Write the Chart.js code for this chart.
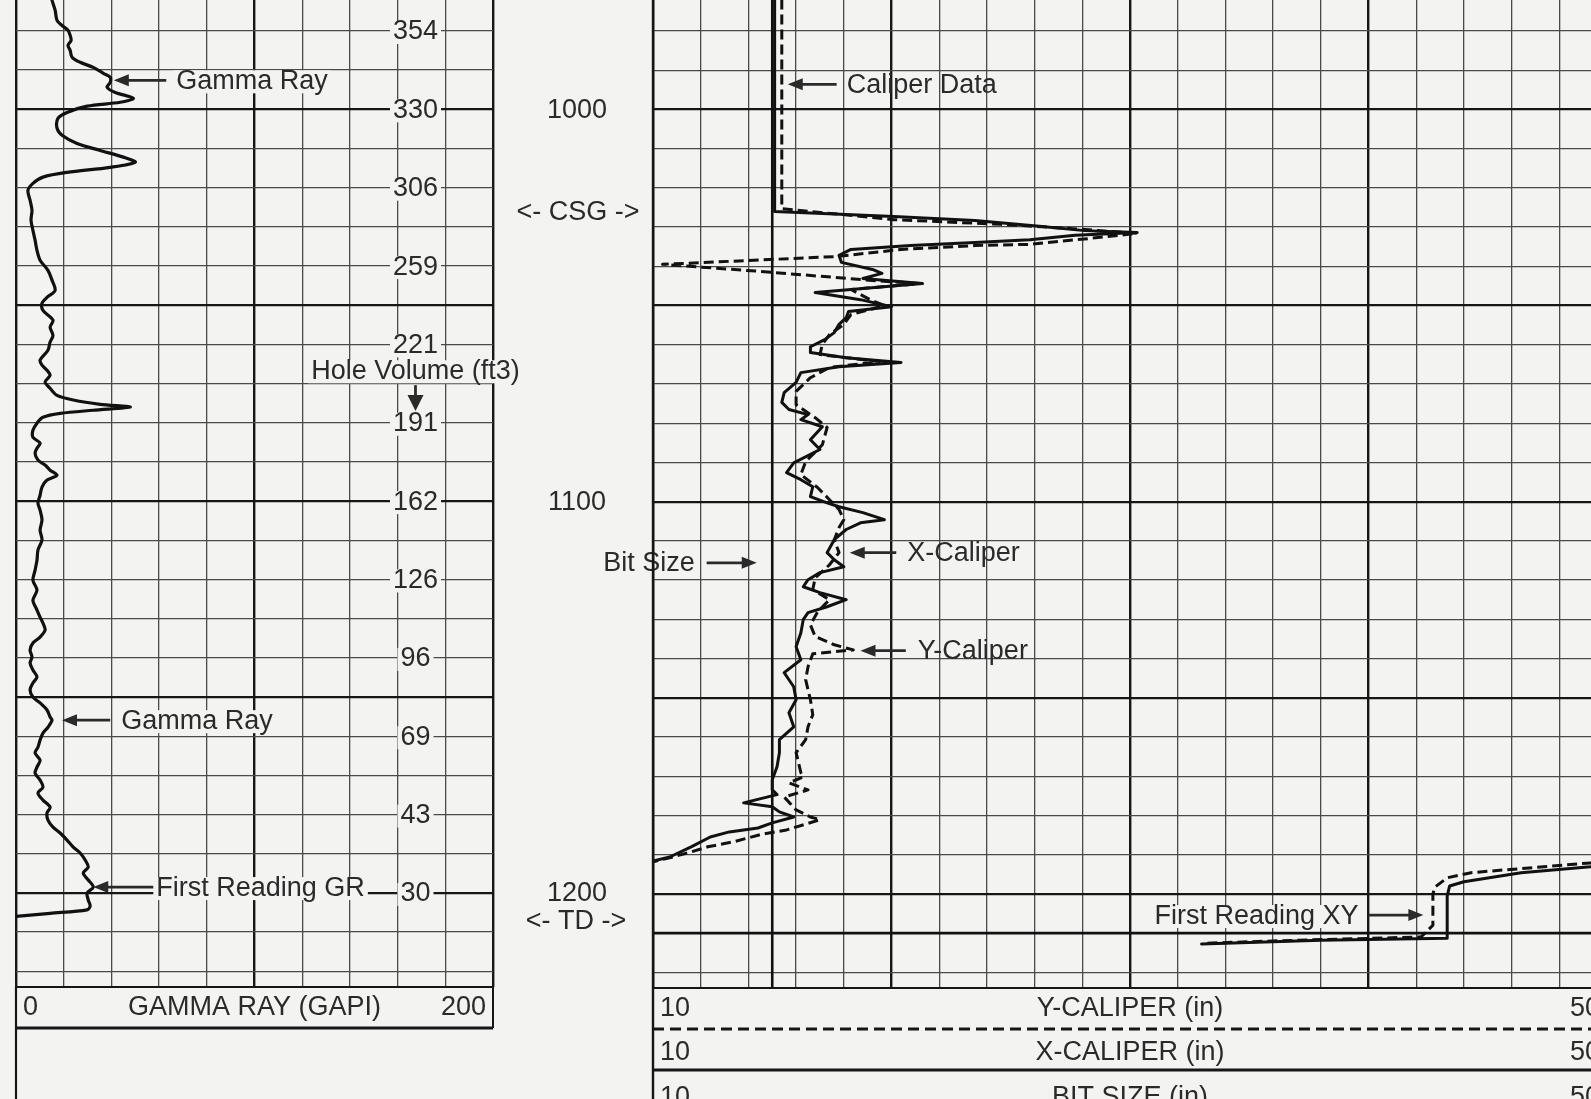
<!DOCTYPE html>
<html>
<head>
<meta charset="utf-8">
<title>Gamma Ray and Caliper Log</title>
<script src="https://cdn.jsdelivr.net/npm/chart.js"></script>
<style>
  html, body { margin: 0; padding: 0; background: #f3f3f2; overflow: hidden; }
  #log { position: relative; width: 1591px; height: 1099px; overflow: hidden; background: #f3f3f2; }
  #log canvas { position: absolute; left: 0; top: 0; }
</style>
</head>
<body>
<div id="log">
  <canvas id="caliper" width="1650" height="1099"></canvas>
  <canvas id="gamma" width="1591" height="1099"></canvas>
</div>
<script>
// ---- depth window (ft) ----
const depthTop = 972.1;
const depthBottom = 1224.0;
const depthLabels = [1000, 1100, 1200];
const casingShoeDepth = 1026;
const totalDepth = 1210;

// ---- gamma ray track (GAPI) ----
const gammaDepth = [972.2,974.7,977.3,978.6,979.8,981.1,982.4,983.7,984.9,986.7,
  988.0,989.3,990.8,991.8,993.1,994.4,995.7,997.2,998.2,999.2,
  1000.8,1002.3,1004.8,1006.6,1008.7,1010.5,1012.2,1013.5,1014.8,1016.1,
  1017.3,1018.9,1020.7,1023.2,1025.8,1028.3,1030.9,1033.4,1036.0,1038.5,
  1041.1,1043.6,1046.2,1048.0,1049.5,1051.3,1053.8,1055.6,1057.7,1059.4,
  1061.5,1064.0,1065.3,1066.6,1067.9,1069.6,1071.2,1073.0,1074.2,1075.3,
  1076.0,1076.8,1077.6,1078.6,1080.1,1081.9,1083.7,1085.2,1086.5,1087.8,
  1089.5,1090.8,1092.1,1093.4,1094.6,1096.4,1098.5,1100.5,1102.3,1104.8,
  1107.4,1109.9,1112.5,1115.1,1117.6,1120.2,1122.7,1125.3,1127.8,1129.6,
  1131.1,1132.9,1134.7,1136.2,1138.0,1139.8,1141.3,1143.1,1144.9,1146.4,
  1148.2,1150.0,1151.5,1153.3,1155.1,1155.9,1157.7,1159.2,1161.0,1162.8,
  1164.3,1166.1,1167.9,1169.4,1171.2,1173.0,1174.5,1176.3,1178.1,1179.6,
  1181.4,1183.2,1184.7,1186.5,1188.3,1189.8,1191.6,1193.4,1194.9,1196.7,
  1198.5,1200.0,1201.8,1203.3,1204.3,1205.2,1206.0];
const gammaRay = [15.1,16.4,17.2,19.3,21.8,22.7,23.1,21.8,22.7,23.5,
  26.9,32.4,36.6,39.5,39.5,38.2,41.6,49.2,43.7,29.8,
  21.4,17.6,17.2,19.3,25.6,35.3,45.0,50.0,39.5,21.4,
  11.3,7.1,5.0,5.9,6.7,6.3,7.1,8.0,8.8,10.1,
  13.4,15.1,16.4,13.0,10.9,11.3,15.5,14.3,15.5,14.3,
  13.4,10.1,10.9,13.0,14.3,12.2,14.3,17.2,24.0,35.3,
  47.9,32.4,18.5,11.3,8.8,7.1,7.1,10.1,8.8,8.0,
  9.2,12.2,14.3,17.2,13.0,10.9,10.1,9.2,10.1,10.9,
  10.1,10.9,9.2,8.8,8.0,7.1,8.8,7.1,8.8,10.1,
  11.3,12.2,10.1,7.1,5.9,6.7,5.9,7.1,8.8,7.1,
  5.9,7.1,10.1,13.0,14.3,15.1,13.4,11.3,10.1,9.2,
  8.0,10.1,8.8,8.0,10.1,11.3,9.2,11.3,14.3,13.0,
  13.4,15.5,18.5,21.4,24.0,26.9,29.0,30.3,28.2,30.3,
  32.4,29.8,30.3,31.1,29.8,14.3,0];

// ---- hole volume marks (ft3) ----
const holeDepth = [980,1000,1020,1040,1060,1080,1100,1120,1140,1160,1180,1200];
const holeVolume = [354,330,306,259,221,191,162,126,96,69,43,30];
const holeVolumeColumn = 167.5;   // GAPI position of the volume column

// ---- caliper track (in) ----
const bitSize = 15;
const xCalDepth = [972.0,1026.0,1027.3,1028.3,1029.8,1030.9,1031.4,1032.1,1033.2,1033.9,
  1034.7,1035.7,1037.2,1039.0,1040.8,1041.8,1043.1,1044.4,1046.7,1048.5,
  1050.3,1051.5,1053.1,1054.8,1056.9,1058.7,1060.5,1062.0,1063.3,1064.5,
  1065.6,1067.1,1069.6,1072.2,1074.7,1076.5,1077.8,1079.1,1080.9,1084.2,
  1086.7,1090.1,1092.6,1094.4,1096.2,1098.7,1100.3,1101.3,1102.8,1104.6,
  1105.4,1107.1,1109.7,1113.0,1114.8,1116.6,1118.1,1119.9,1121.7,1123.2,
  1125.0,1126.8,1128.3,1130.1,1133.4,1137.0,1140.3,1143.6,1145.4,1147.2,
  1150.5,1153.8,1157.4,1160.7,1164.0,1167.6,1170.9,1173.5,1174.7,1176.8,
  1177.8,1179.1,1180.4,1181.9,1183.2,1184.2,1185.5,1188.0,1190.6,1191.6,
  null,
  1192.6,1193.1,1194.6,1196.9,1198.0,1200.5,1211.3,1211.8,1212.8];
const xCaliper = [15.1,15.1,20.1,23.5,26.2,28.1,30.3,27.7,25.8,23.5,
  20.8,18.3,17.8,17.9,19.2,19.6,18.8,21.3,16.8,18.7,
  20.0,18.2,18.1,17.8,17.6,17.2,16.6,16.6,18.1,20.4,
  17.8,16.2,16.0,15.5,15.4,15.7,16.5,16.2,17.1,16.6,
  17.0,15.9,15.6,16.2,16.7,16.6,17.3,17.8,18.8,19.7,
  18.7,18.1,17.6,17.3,17.6,18.0,17.0,16.5,16.3,17.0,
  18.1,17.3,16.5,16.3,16.2,16.0,16.2,15.5,15.7,15.9,
  16.0,15.7,15.9,15.3,15.3,15.2,15.0,15.0,15.2,13.8,
  15.0,15.3,15.9,15.0,14.4,13.2,12.4,11.6,10.7,10.0,
  null,
  50.0,49.3,46.4,44.0,43.4,43.3,43.3,38.0,33.0];
const yCalDepth = [972.0,1025.3,1028.1,1029.3,1030.4,1031.6,1032.9,1034.4,1034.7,1035.7,
  1037.5,1039.5,1041.3,1043.6,1044.4,1045.9,1048.5,1050.0,1052.3,1054.8,
  1057.4,1059.9,1062.5,1064.3,1065.8,1068.4,1071.9,1075.3,1078.6,1081.1,
  1085.5,1089.8,1093.1,1096.4,1099.5,1102.0,1104.6,1106.6,1109.7,1113.0,
  1116.1,1119.4,1122.4,1125.0,1128.1,1131.4,1134.4,1136.5,1137.8,1138.8,
  1142.1,1145.4,1150.5,1154.3,1157.4,1160.7,1164.0,1169.1,1170.2,1171.7,
  1173.5,1175.3,1178.6,1180.4,1181.1,1183.7,1184.9,1186.7,1188.0,1189.3,
  1190.8,1191.8,
  null,
  1191.8,1192.1,1194.6,1195.9,1198.2,1200.0,1208.0,1211.0,1211.8,1212.6];
const yCaliper = [15.4,15.4,20.1,24.6,27.6,30.3,28.3,25.8,23.5,20.4,
  17.7,10.4,14.5,19.2,21.2,18.3,19.1,19.7,18.3,18.0,
  17.4,17.1,17.0,19.5,17.4,16.6,16.0,16.0,16.8,17.3,
  17.1,16.4,16.2,16.9,17.4,17.8,18.0,17.8,17.6,17.8,
  17.4,16.8,16.7,17.4,16.9,16.6,16.8,17.6,18.4,16.7,
  16.5,16.4,16.6,16.7,16.5,16.4,16.0,16.2,16.3,15.7,
  16.5,15.5,16.0,16.6,17.0,15.6,14.5,13.4,12.3,11.6,
  10.7,10.0,
  null,
  50.0,49.3,44.3,43.3,42.8,42.7,42.7,42.2,37.1,33.1];

// ---- callouts ----
const gammaNotes = [
  { text: 'Gamma Ray', depth: 992.6, tip: 41.0, tail: 63.0, gap: 10 },
  { text: 'Gamma Ray', depth: 1155.9, tip: 19.3, tail: 39.5, gap: 11 },
  { text: 'First Reading GR', depth: 1198.5, tip: 32.4, tail: 58.4, gap: 1 }
];
const caliperNotes = [
  { text: 'Caliper Data', depth: 993.6, tip: 15.65, tail: 17.7, gap: 10 },
  { text: 'X-Caliper', depth: 1113.0, tip: 18.25, tail: 20.2, gap: 11 },
  { text: 'Y-Caliper', depth: 1138.0, tip: 18.7, tail: 20.6, gap: 12 }
];
const caliperNotesLeft = [
  { text: 'Bit Size', depth: 1115.6, tip: 14.35, tail: 12.25, gap: 12, bg: false },
  { text: 'First Reading XY', depth: 1205.4, tip: 42.3, tail: 40.0, gap: 10, bg: true }
];
const caliperHeaders = ['Y-CALIPER (in)', 'X-CALIPER (in)', 'BIT SIZE (in)'];

// ---- styling ----
const PAPER = '#f3f3f2';
const INK = '#2a2a2a';
const MAJOR = '#161616';
const MINOR = '#4a4a4a';
const FONT = "27px 'Liberation Sans', Arial, sans-serif";
Chart.defaults.font.family = "'Liberation Sans', Arial, sans-serif";

const depthGrid = [];
for (let d = 980; d <= 1220; d += 10) depthGrid.push(d);
const gammaGrid = [];
for (let v = 0; v <= 200; v += 20) gammaGrid.push(v);
const caliperGrid = [];
for (let v = 10; v <= 50; v += 2) caliperGrid.push(v);

function pairs(depths, values) {
  return depths.map((d, i) => ({ x: values[i], y: d }));
}

function depthAxis() {
  return {
    type: 'linear', reverse: true, min: depthTop, max: depthBottom,
    afterBuildTicks: s => { s.ticks = depthGrid.map(v => ({ value: v })); },
    ticks: { display: false },
    grid: {
      drawTicks: false,
      color: c => (c.tick && c.tick.value % 50 === 0) ? MAJOR : MINOR,
      lineWidth: c => (c.tick && c.tick.value % 50 === 0) ? 2.2 : 1.3
    },
    border: { display: false }
  };
}

function valueAxis(min, max, grid, majorEvery) {
  return {
    type: 'linear', position: 'bottom', min, max,
    afterBuildTicks: s => { s.ticks = grid.map(v => ({ value: v })); },
    ticks: { display: false },
    grid: {
      drawTicks: false,
      color: c => (c.tick && (c.tick.value - min) % majorEvery === 0) ? MAJOR : MINOR,
      lineWidth: c => (c.tick && (c.tick.value - min) % majorEvery === 0) ? 2.4 : 1.3
    },
    border: { display: false }
  };
}

function line(ctx, x0, y0, x1, y1, w, dash) {
  ctx.save();
  ctx.lineWidth = w;
  ctx.strokeStyle = MAJOR;
  ctx.setLineDash(dash || []);
  ctx.beginPath(); ctx.moveTo(x0, y0); ctx.lineTo(x1, y1); ctx.stroke();
  ctx.restore();
}

function arrowTo(ctx, x0, y0, x1, y1, big) {
  const a = Math.atan2(y1 - y0, x1 - x0), L = big ? 16 : 15, W = big ? 8 : 6;
  const bx = x1 - L * Math.cos(a), by = y1 - L * Math.sin(a);
  ctx.save();
  ctx.strokeStyle = INK; ctx.fillStyle = INK; ctx.lineWidth = 2.8; ctx.lineCap = 'butt';
  ctx.beginPath(); ctx.moveTo(x0, y0); ctx.lineTo(bx + 2 * Math.cos(a), by + 2 * Math.sin(a)); ctx.stroke();
  ctx.beginPath(); ctx.moveTo(x1, y1);
  ctx.lineTo(bx - W * Math.sin(a), by + W * Math.cos(a));
  ctx.lineTo(bx + W * Math.sin(a), by - W * Math.cos(a));
  ctx.closePath(); ctx.fill();
  ctx.restore();
}

function text(ctx, str, x, y, align, bg) {
  ctx.save();
  ctx.font = FONT;
  ctx.textAlign = align; ctx.textBaseline = 'middle';
  if (bg) {
    const w = ctx.measureText(str).width;
    const left = align === 'center' ? x - w / 2 : (align === 'right' ? x - w : x);
    ctx.fillStyle = PAPER;
    ctx.fillRect(left - 3, y - 10, w + 6, 23);
  }
  ctx.fillStyle = INK;
  ctx.fillText(str, x, y + 1);
  ctx.restore();
}

// decorations of the gamma ray track, hole volume column and depth column
const gammaDecor = {
  id: 'gammaDecor',
  afterDatasetsDraw(chart) {
    const { ctx, chartArea: a, scales: { x, y } } = chart;
    const H = chart.height;

    // hole volume values sitting on the grid
    const hx = x.getPixelForValue(holeVolumeColumn);
    holeDepth.forEach((d, i) => text(ctx, String(holeVolume[i]), hx, y.getPixelForValue(d), 'center', true));
    text(ctx, 'Hole Volume (ft3)', hx, y.getPixelForValue(1066.6), 'center', true);
    arrowTo(ctx, hx, y.getPixelForValue(1070.4), hx, y.getPixelForValue(1077.0), true);

    // callouts
    gammaNotes.forEach(n => {
      const py = y.getPixelForValue(n.depth);
      const tail = x.getPixelForValue(n.tail);
      arrowTo(ctx, tail, py, x.getPixelForValue(n.tip), py);
      text(ctx, n.text, tail + n.gap, py, 'left', true);
    });

    // frame and scale header
    line(ctx, a.left, a.bottom, a.right, a.bottom, 2);
    line(ctx, a.left, a.bottom, a.left, H, 2.2);
    line(ctx, a.right, a.bottom, a.right, a.bottom + 41, 2);
    line(ctx, a.left, a.bottom + 41, a.right, a.bottom + 41, 3);
    const hy = a.bottom + 20;
    text(ctx, String(x.min), a.left + 7, hy, 'left');
    text(ctx, 'GAMMA RAY (GAPI)', (a.left + a.right) / 2, hy, 'center');
    text(ctx, String(x.max), a.right - 7, hy, 'right');

    // depth column
    const cx = a.right + 84;
    depthLabels.forEach(d => text(ctx, String(d), cx, y.getPixelForValue(d), 'center'));
    text(ctx, '<- CSG ->', cx + 1, y.getPixelForValue(casingShoeDepth), 'center');
    text(ctx, '<- TD ->', cx - 1, y.getPixelForValue(totalDepth) - 12, 'center');
  }
};

// decorations of the caliper track
const caliperDecor = {
  id: 'caliperDecor',
  afterDatasetsDraw(chart) {
    const { ctx, chartArea: a, scales: { x, y } } = chart;
    const H = chart.height;

    caliperNotes.forEach(n => {
      const py = y.getPixelForValue(n.depth);
      const tail = x.getPixelForValue(n.tail);
      arrowTo(ctx, tail, py, x.getPixelForValue(n.tip), py);
      text(ctx, n.text, tail + n.gap, py, 'left', false);
    });
    caliperNotesLeft.forEach(n => {
      const py = y.getPixelForValue(n.depth);
      const tail = x.getPixelForValue(n.tail);
      arrowTo(ctx, tail, py, x.getPixelForValue(n.tip), py);
      text(ctx, n.text, tail - n.gap, py, 'right', n.bg);
    });

    // frame and scale header
    line(ctx, a.left, a.bottom, a.right, a.bottom, 2);
    line(ctx, a.left, 0, a.left, H, 2.4);
    line(ctx, a.left, a.bottom + 41, a.right, a.bottom + 41, 3, [11, 6]);
    line(ctx, a.left, a.bottom + 82, a.right, a.bottom + 82, 3);
    const rows = [a.bottom + 20, a.bottom + 64, a.bottom + 109];
    caliperHeaders.forEach((label, i) => {
      text(ctx, String(x.min), a.left + 7, rows[i], 'left');
      text(ctx, label, (a.left + a.right) / 2, rows[i], 'center');
      text(ctx, String(x.max), a.right - 7, rows[i], 'right');
    });
  }
};

const common = {
  responsive: false,
  animation: false,
  devicePixelRatio: 1,
  events: [],
  plugins: { legend: { display: false }, tooltip: { enabled: false } }
};

new Chart(document.getElementById('caliper'), {
  type: 'scatter',
  data: {
    datasets: [
      { label: 'X-Caliper', data: pairs(xCalDepth, xCaliper), showLine: true, spanGaps: false,
        borderColor: '#111', borderWidth: 3, pointRadius: 0, borderJoinStyle: 'round', borderCapStyle: 'round' },
      { label: 'Y-Caliper', data: pairs(yCalDepth, yCaliper), showLine: true, spanGaps: false,
        borderColor: '#111', borderWidth: 3, borderDash: [10, 5], pointRadius: 0, borderJoinStyle: 'round' },
      { label: 'Bit Size', data: pairs([depthTop, depthBottom], [bitSize, bitSize]), showLine: true,
        borderColor: '#111', borderWidth: 2.6, pointRadius: 0 },
      { label: 'TD', data: pairs([totalDepth, totalDepth], [10, 50]), showLine: true,
        borderColor: '#111', borderWidth: 2.8, pointRadius: 0 }
    ]
  },
  options: Object.assign({}, common, {
    layout: { padding: { left: 653, right: 43, top: 0, bottom: 111 } },
    scales: { x: valueAxis(10, 50, caliperGrid, 10), y: depthAxis() }
  }),
  plugins: [caliperDecor]
});

new Chart(document.getElementById('gamma'), {
  type: 'scatter',
  data: {
    datasets: [
      { label: 'Gamma Ray', data: pairs(gammaDepth, gammaRay), showLine: true, tension: 0.3,
        borderColor: '#111', borderWidth: 3.2, pointRadius: 0, borderJoinStyle: 'round', borderCapStyle: 'round' }
    ]
  },
  options: Object.assign({}, common, {
    layout: { padding: { left: 16, right: 1591 - 493, top: 0, bottom: 112 } },
    scales: { x: valueAxis(0, 200, gammaGrid, 100), y: depthAxis() }
  }),
  plugins: [gammaDecor]
});
</script>
</body>
</html>
